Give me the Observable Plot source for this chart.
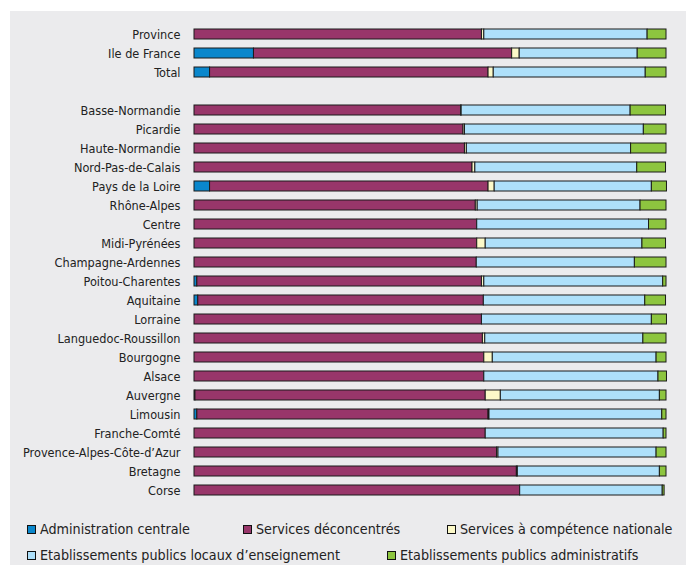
<!DOCTYPE html>
<html>
<head>
<meta charset="utf-8">
<script src="https://cdn.jsdelivr.net/npm/d3@7"></script>
<script src="https://cdn.jsdelivr.net/npm/@observablehq/plot@0.6"></script>
<style>
  html, body { margin: 0; padding: 0; background: #ffffff; }
  body { width: 686px; height: 565px; position: relative; overflow: hidden;
         font-family: "DejaVu Sans Condensed", "DejaVu Sans", sans-serif; }
  #panel { position: absolute; left: 10px; top: 11px; width: 676px; height: 554px; background: #ebebed; }
  #chart { position: absolute; left: 0; top: 0; line-height: 0; }
  .leg { position: absolute; font-size: 14.2px; color: #222; white-space: nowrap; line-height: 16px; }
  .sw { position: absolute; width: 7px; height: 7px; border: 1px solid #111; }
</style>
</head>
<body>
<div id="panel"><div id="chart"></div><div id="legend"></div></div>
<script>
const regions = ["Province", "Ile de France", "Total",
  "Basse-Normandie", "Picardie", "Haute-Normandie", "Nord-Pas-de-Calais", "Pays de la Loire",
  "Rhône-Alpes", "Centre", "Midi-Pyrénées", "Champagne-Ardennes", "Poitou-Charentes",
  "Aquitaine", "Lorraine", "Languedoc-Roussillon", "Bourgogne", "Alsace", "Auvergne",
  "Limousin", "Franche-Comté", "Provence-Alpes-Côte-d’Azur", "Bretagne", "Corse"];
const gapLabel = " ";

const seriesNames = ["Administration centrale", "Services déconcentrés", "Services à compétence nationale",
  "Etablissements publics locaux d’enseignement", "Etablissements publics administratifs"];
const seriesColors = ["#0a87cc", "#98366a", "#fcf9c8", "#aee0fa", "#8dc53f"];

const adminCentrale = [0, 12.6, 3.3, 0, 0, 0, 0, 3.3, 0, 0, 0, 0, 0.6, 0.8, 0, 0, 0, 0, 0.2, 0.6, 0, 0, 0, 0];
const servicesDeconcentres = [60.9, 54.7, 59.0, 56.5, 57.0, 57.3, 58.9, 59.0, 59.6, 59.9, 59.9, 59.8, 60.3, 60.5, 60.9, 61.1, 61.4, 61.4, 61.5, 61.7, 61.7, 64.1, 68.3, 69.0];
const servicesCompetenceNationale = [0.5, 1.6, 1.1, 0.1, 0.3, 0.4, 0.6, 1.3, 0.4, 0, 1.8, 0, 0.5, 0, 0, 0.5, 1.8, 0, 3.2, 0.2, 0, 0.3, 0.2, 0];
const eple = [34.6, 25.0, 32.2, 35.8, 37.9, 34.8, 34.3, 33.3, 34.5, 36.4, 33.2, 33.5, 37.9, 34.2, 36.0, 33.5, 34.7, 36.9, 33.7, 36.6, 37.7, 33.5, 30.1, 30.2];
const epa = [4.0, 6.1, 4.4, 7.5, 4.8, 7.5, 6.1, 3.2, 5.5, 3.7, 5.0, 6.7, 0.7, 4.4, 3.2, 4.9, 2.1, 1.8, 1.4, 0.9, 0.6, 2.1, 1.4, 0.4];

const seriesValues = [adminCentrale, servicesDeconcentres, servicesCompetenceNationale, eple, epa];

const data = [];
regions.forEach((r, i) => {
  seriesNames.forEach((s, j) => {
    data.push({region: r, series: s, value: seriesValues[j][i]});
  });
});

const yDomain = [...regions.slice(0, 3), gapLabel, ...regions.slice(3)];

const chart = Plot.plot({
  width: 676,
  height: 500,
  marginLeft: 184,
  marginRight: 20,
  marginTop: 6,
  marginBottom: 4.6,
  style: {background: "transparent", fontFamily: "\"DejaVu Sans Condensed\", \"DejaVu Sans\", sans-serif", fontSize: "12.6px", color: "#222"},
  x: {domain: [0, 100], axis: null},
  y: {domain: yDomain, padding: 0.48, label: null, tickSize: 0, tickPadding: 14},
  color: {domain: seriesNames, range: seriesColors},
  marks: [
    Plot.barX(data, Plot.stackX({
      y: "region", x: "value", fill: "series", order: seriesNames,
      stroke: "#1b1b1b", strokeWidth: 1
    }))
  ]
});
document.getElementById("chart").appendChild(chart);

// legend (HTML, below the SVG)
const legendPos = [
  {x: 17, y: 510}, {x: 233, y: 510}, {x: 437, y: 510},
  {x: 17, y: 536}, {x: 377, y: 536}
];
const legend = document.getElementById("legend");
seriesNames.forEach((s, i) => {
  const p = legendPos[i];
  const sw = document.createElement("div");
  sw.className = "sw";
  sw.style.left = p.x + "px";
  sw.style.top = (p.y + 4) + "px";
  sw.style.background = seriesColors[i];
  legend.appendChild(sw);
  const t = document.createElement("div");
  t.className = "leg";
  t.style.left = (p.x + 13) + "px";
  t.style.top = p.y + "px";
  t.textContent = s;
  legend.appendChild(t);
});
</script>
</body>
</html>
